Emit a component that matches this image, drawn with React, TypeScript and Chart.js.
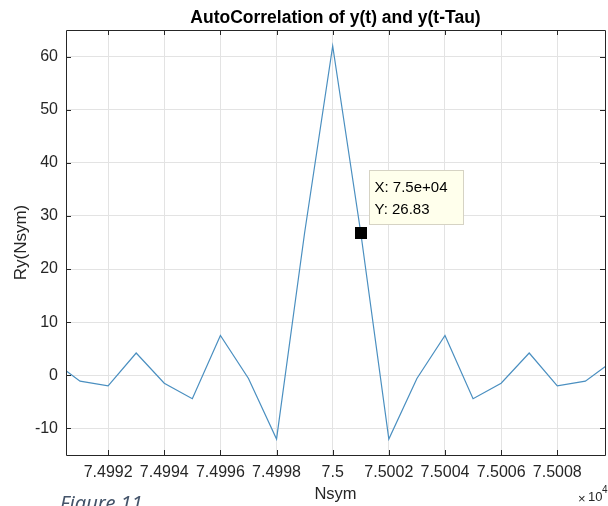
import React, { useEffect, useRef } from "react";
import { Chart, registerables } from "chart.js";

Chart.register(...registerables);

const nsym: number[] = [
  74990, 74991, 74992, 74993, 74994, 74995, 74996, 74997, 74998, 74999, 75000,
  75001, 75002, 75003, 75004, 75005, 75006, 75007, 75008, 75009, 75010,
];
const ry: number[] = [
  2.8, -1.1, -2.0, 4.2, -1.5, -4.4, 7.5, -0.6, -12.0, 26.83, 62.0,
  26.83, -12.0, -0.6, 7.5, -4.4, -1.5, 4.2, -2.0, -1.1, 2.8,
];
const xTicks: number[] = [74992, 74994, 74996, 74998, 75000, 75002, 75004, 75006, 75008];
const yTicks: number[] = [-10, 0, 10, 20, 30, 40, 50, 60];
const tipIndex = 11;
const titleText = "AutoCorrelation of y(t) and y(t-Tau)";
const xLabel = "Nsym";
const yLabel = "Ry(Nsym)";
const caption = "Figure 11";

const FONT = "'Liberation Sans', Arial, Helvetica, sans-serif";

export default function App() {
  const ref = useRef<HTMLCanvasElement | null>(null);
  useEffect(() => {
    document.body.style.margin = "0";
    const canvas = ref.current!;
    const overlay = {
      id: "overlay",
      afterDraw(chart: any) {
        const ctx = chart.ctx as CanvasRenderingContext2D;
        const a = chart.chartArea;
        const xs = chart.scales.x;
        const ys = chart.scales.y;
        ctx.save();
        // box
        ctx.strokeStyle = "#262626";
        ctx.lineWidth = 1;
        ctx.beginPath();
        ctx.rect(Math.round(a.left) + 0.5, Math.round(a.top) + 0.5, Math.round(a.right - a.left), Math.round(a.bottom - a.top));
        ctx.stroke();
        // inward ticks
        ctx.beginPath();
        for (const t of xTicks) {
          const px = Math.round(xs.getPixelForValue(t)) + 0.5;
          ctx.moveTo(px, a.bottom);
          ctx.lineTo(px, a.bottom - 5);
          ctx.moveTo(px, a.top);
          ctx.lineTo(px, a.top + 5);
        }
        for (const t of yTicks) {
          const py = Math.round(ys.getPixelForValue(t)) + 0.5;
          ctx.moveTo(a.left, py);
          ctx.lineTo(a.left + 5, py);
          ctx.moveTo(a.right, py);
          ctx.lineTo(a.right - 5, py);
        }
        ctx.stroke();
        // title
        ctx.fillStyle = "#000";
        ctx.font = `bold 17.5px ${FONT}`;
        ctx.textAlign = "center";
        ctx.textBaseline = "middle";
        ctx.fillText(titleText, (a.left + a.right) / 2, 18);
        // x label
        ctx.fillStyle = "#262626";
        ctx.font = `16.5px ${FONT}`;
        ctx.fillText(xLabel, (a.left + a.right) / 2, 494);
        // exponent
        ctx.font = `13px ${FONT}`;
        ctx.textAlign = "left";
        ctx.fillText("\u00d7", 578, 499);
        ctx.fillText("10", 588, 497);
        ctx.font = `10px ${FONT}`;
        ctx.fillText("4", 602, 490);
        // y label
        ctx.save();
        ctx.translate(21, (a.top + a.bottom) / 2);
        ctx.rotate(-Math.PI / 2);
        ctx.textAlign = "center";
        ctx.font = `17px ${FONT}`;
        ctx.fillText(yLabel, 0, 0);
        ctx.restore();
        // datatip
        const px = xs.getPixelForValue(nsym[tipIndex]);
        const py = ys.getPixelForValue(ry[tipIndex]);
        ctx.fillStyle = "#000";
        ctx.fillRect(Math.round(px) - 6, Math.round(py) - 6, 12, 12);
        const bx = Math.round(px) + 8.5;
        const by = Math.round(py) - 62.5;
        ctx.fillStyle = "#ffffec";
        ctx.strokeStyle = "#d6d3c4";
        ctx.fillRect(bx, by, 94, 54);
        ctx.strokeRect(bx, by, 94, 54);
        ctx.fillStyle = "#000";
        ctx.font = `15px ${FONT}`;
        ctx.textAlign = "left";
        ctx.textBaseline = "middle";
        ctx.fillText("X: 7.5e+04", bx + 5, by + 17);
        ctx.fillText("Y: " + ry[tipIndex].toFixed(2), bx + 5, by + 39);
        // caption
        ctx.fillStyle = "#44546a";
        ctx.font = `italic 20px 'Noto Sans', 'Open Sans', sans-serif`;
        ctx.textBaseline = "alphabetic";
        ctx.fillText(caption, 60, 510);
        ctx.restore();
      },
    };
    const chart = new Chart(canvas, {
      type: "scatter",
      data: {
        datasets: [
          {
            data: nsym.map((x, i) => ({ x, y: ry[i] })),
            showLine: true,
            borderColor: "#4a8fc0",
            borderWidth: 1.2,
            pointRadius: 0,
            pointHoverRadius: 0,
            tension: 0,
          },
        ],
      },
      options: {
        responsive: false,
        animation: false,
        events: [],
        layout: { padding: { top: 30, right: 3, left: 0, bottom: 0 } },
        plugins: { legend: { display: false }, tooltip: { enabled: false }, title: { display: false } },
        scales: {
          x: {
            type: "linear",
            min: 74990.5,
            max: 75009.7,
            afterBuildTicks: (s: any) => {
              s.ticks = xTicks.map((v) => ({ value: v }));
            },
            afterFit: (s: any) => {
              s.height = 51;
            },
            grid: { color: "#e3e3e3", drawTicks: false, lineWidth: 1 },
            border: { display: false },
            ticks: {
              color: "#262626",
              font: { family: FONT, size: 16 },
              padding: 8,
              maxRotation: 0,
              autoSkip: false,
              callback: (v: any) => String(Number((Number(v) / 1e4).toFixed(4))),
            },
          },
          y: {
            type: "linear",
            min: -15,
            max: 65,
            afterBuildTicks: (s: any) => {
              s.ticks = yTicks.map((v) => ({ value: v }));
            },
            afterFit: (s: any) => {
              s.width = 66;
            },
            grid: { color: "#e3e3e3", drawTicks: false, lineWidth: 1 },
            border: { display: false },
            ticks: {
              color: "#262626",
              font: { family: FONT, size: 16 },
              padding: 8,
              autoSkip: false,
            },
          },
        },
      },
      plugins: [overlay],
    } as any);
    return () => chart.destroy();
  }, []);
  return <canvas ref={ref} width={608} height={506} style={{ display: "block" }} />;
}
